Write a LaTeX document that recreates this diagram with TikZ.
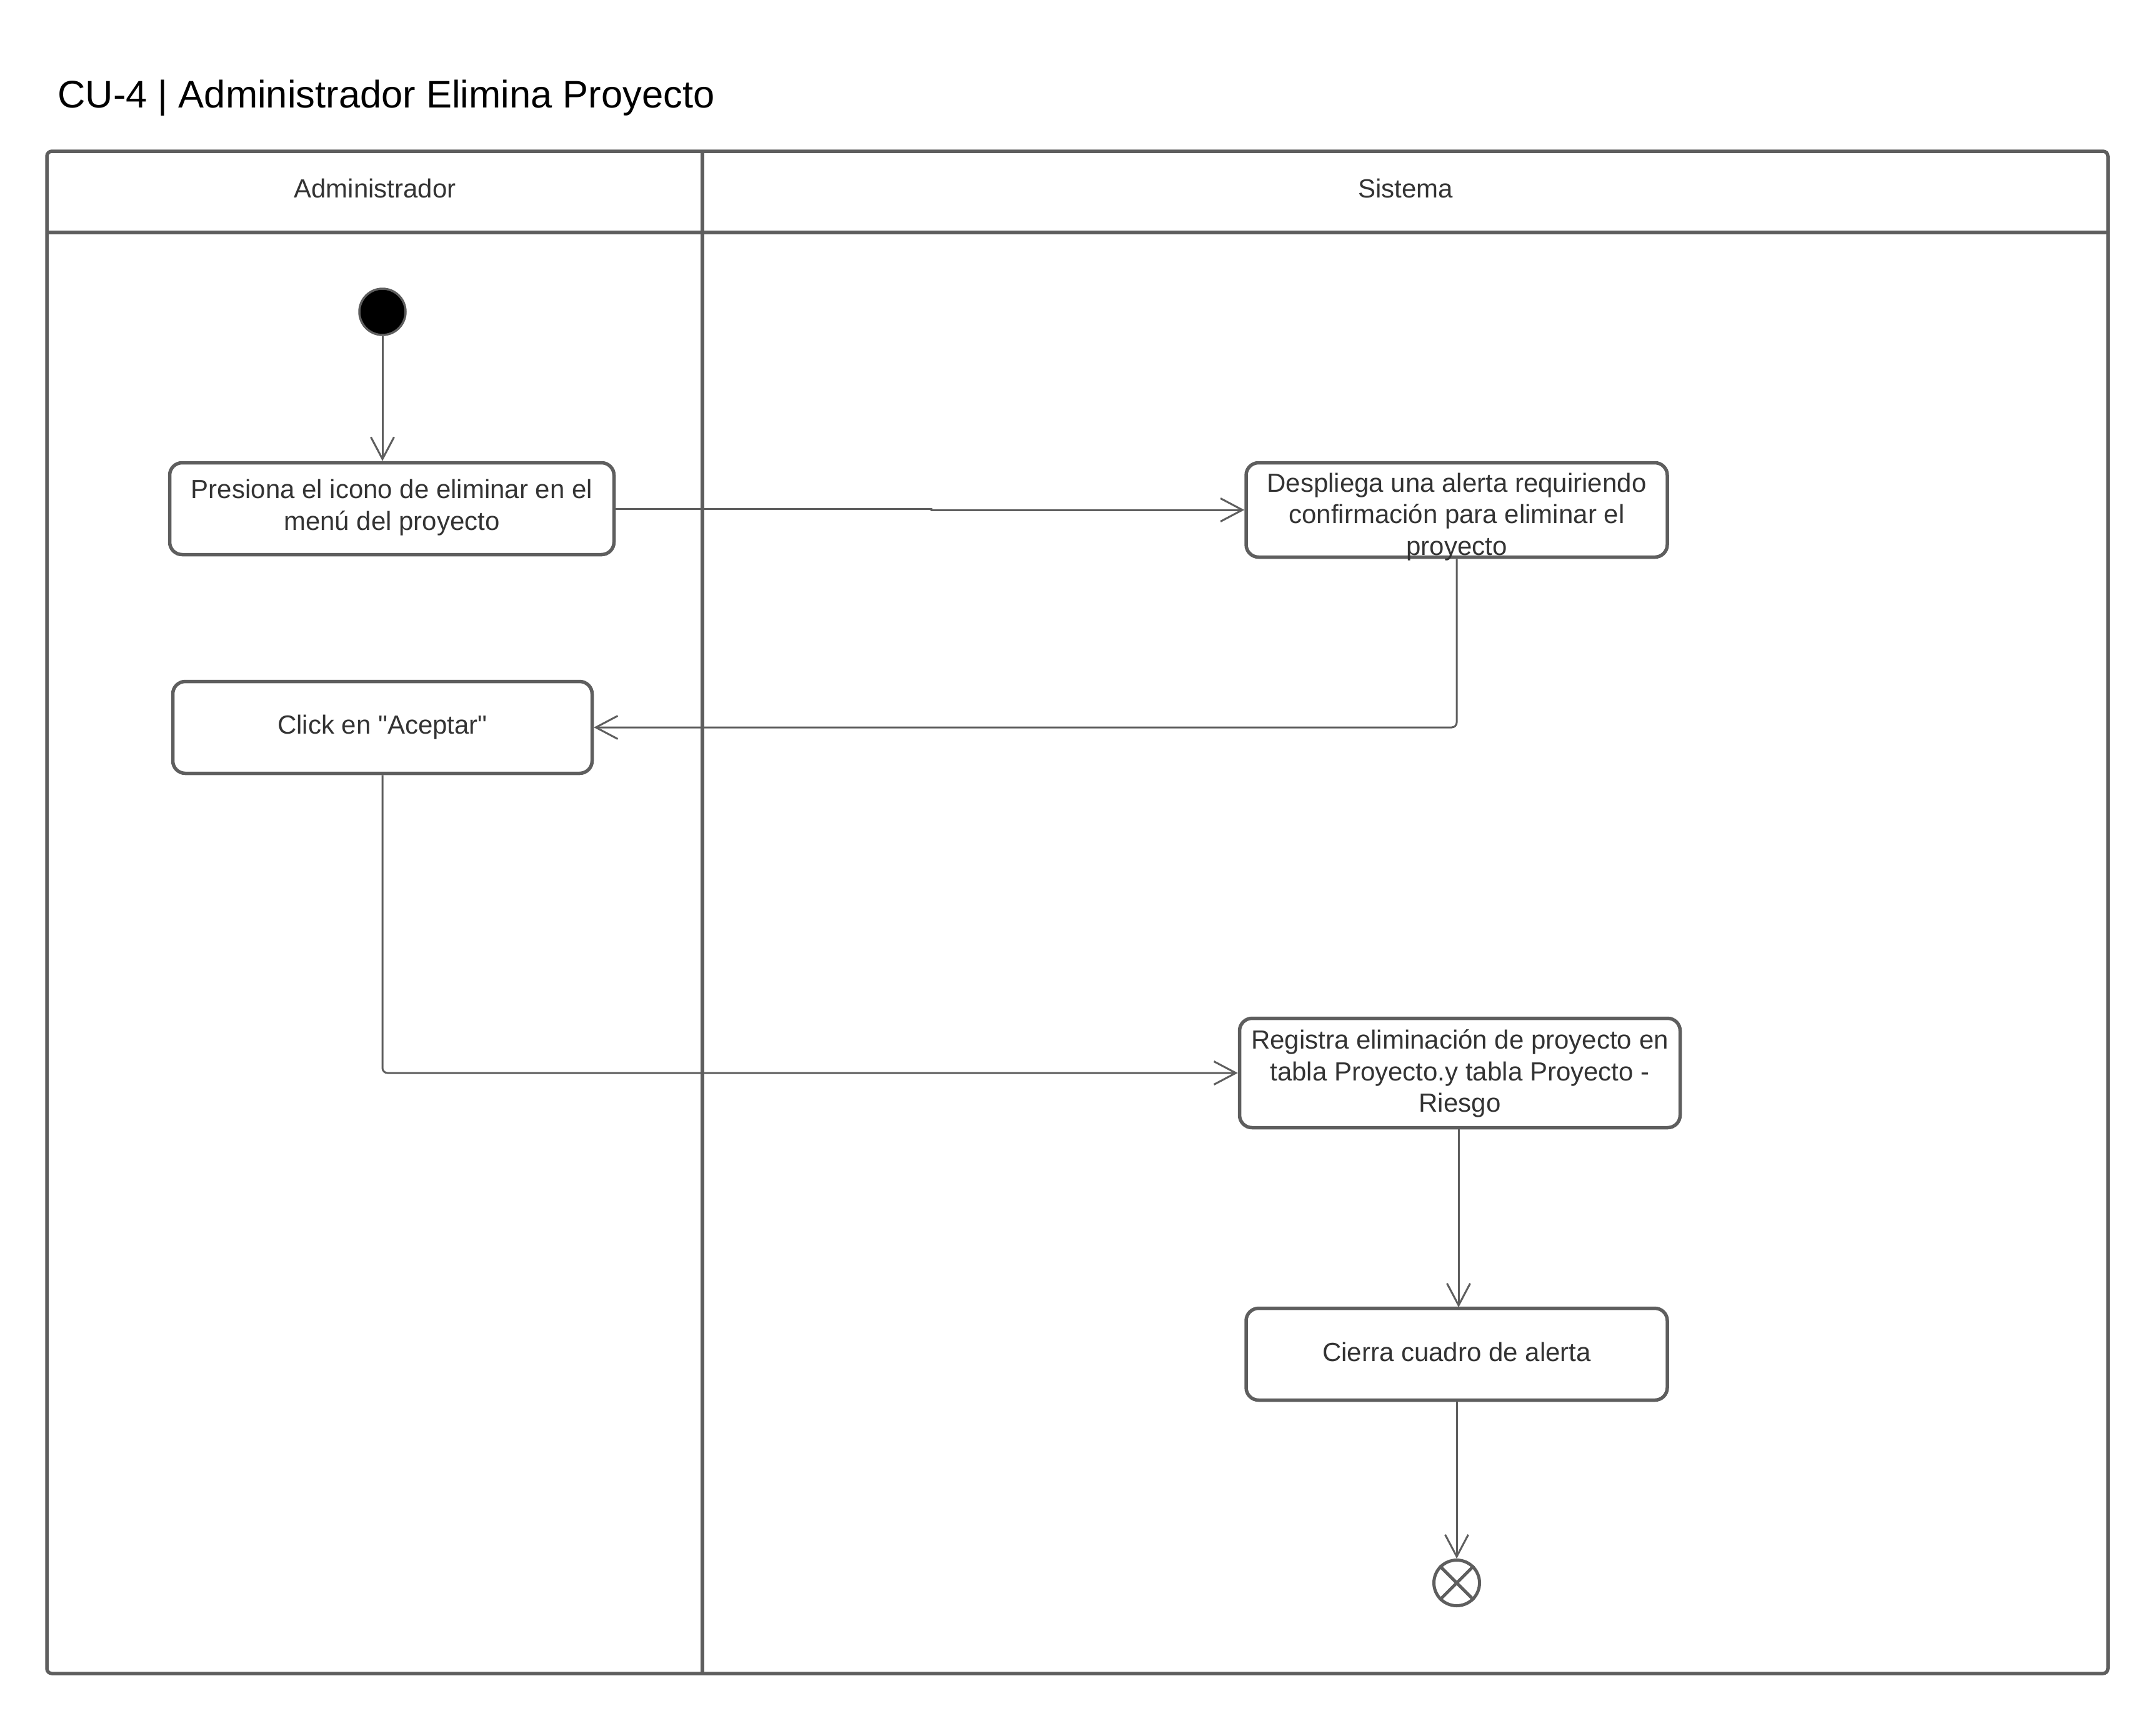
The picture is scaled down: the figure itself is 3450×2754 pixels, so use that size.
\documentclass[tikz,border=0pt]{standalone}
\usepackage{fontspec}
\setmainfont{Liberation Sans}
\usetikzlibrary{arrows.meta}
\definecolor{edge}{HTML}{5E5E5E}
\definecolor{ink}{HTML}{333333}
\begin{document}
\begin{tikzpicture}[x=1pt,y=-1pt,
  lane/.style={draw=edge, line width=5.5pt},
  hdr/.style={text=ink, font=\fontsize{42}{50.4}\selectfont, inner sep=0pt},
  act/.style={draw=edge, line width=5.5pt, rounded corners=20pt, fill=white, inner sep=0pt},
  acttext/.style={text=ink, font=\fontsize{42}{50.4}\selectfont, align=center, inner sep=0pt},
  flow/.style={draw=edge, line width=3pt, rounded corners=8pt,
    -{Straight Barb[length=35pt,width=37pt,line width=3pt]}},
]
\useasboundingbox (0,0) rectangle (3450,2754);
\fill[white] (0,0) rectangle (3450,2754);

% title
\node[anchor=base west, inner sep=0pt, font=\fontsize{61.5}{74}\selectfont] (title) at (92,172)
  {CU-4 | Administrador Elimina Proyecto};

% pool with two lanes
\draw[lane, rounded corners=8pt] (75,242) rectangle (3373,2678);
\draw[lane] (75,372) -- (3373,372);
\draw[lane] (1124,242) -- (1124,2678);
\node[hdr] (hA) at (600,301) {Administrador};
\node[hdr] (hS) at (2249,301) {Sistema};

% initial and final states
\node[circle, fill=black, draw=edge, line width=3.5pt, minimum size=74pt, inner sep=0pt] (start) at (612,499) {};
\node[circle, draw=edge, line width=5pt, minimum size=73pt, inner sep=0pt, fill=white] (stop) at (2331,2533) {};
\draw[edge, line width=5pt] (stop.north east) -- (stop.south west);
\draw[edge, line width=5pt] (stop.north west) -- (stop.south east);

% actions
\node[act, minimum width=711pt, minimum height=147pt] (b1) at (627,814) {};
\node[acttext] (b1t) at (627,812) {Presiona el icono de eliminar en el\\menú del proyecto};

\node[act, minimum width=674pt, minimum height=151pt] (b3) at (2331,816) {};
\node[acttext] (b3t) at (2331,827) {Despliega una alerta requiriendo\\confirmación para eliminar el\\proyecto};

\node[act, minimum width=671pt, minimum height=147pt] (b4) at (612,1164) {};
\node[acttext] (b4t) at (612,1164) {Click en \textquotedbl Aceptar\textquotedbl};

\node[act, minimum width=705pt, minimum height=175pt] (b5) at (2336,1717) {};
\node[acttext] (b5t) at (2336,1718) {Registra eliminación de proyecto en\\tabla Proyecto.y tabla Proyecto -\\Riesgo};

\node[act, minimum width=674pt, minimum height=147pt] (b6) at (2331,2167) {};
\node[acttext] (b6t) at (2331,2163) {Cierra cuadro de alerta};

% control flow
\coordinate (j1) at (1490,0);
\draw[flow] (start) -- (start |- b1.north);
\draw[flow, rounded corners=0pt] (b1.east) -- (b1.east -| j1) -- (b3.west -| j1) -- (b3.west);
\draw[flow] (b3.south) -- (b3.south |- b4.east) -- (b4.east);
\draw[flow] (b4.south) -- (b4.south |- b5.west) -- (b5.west);
\draw[flow] (2334,1806) -- (2334,2092);
\draw[flow] (b6.south) -- (stop);
\end{tikzpicture}
\end{document}
